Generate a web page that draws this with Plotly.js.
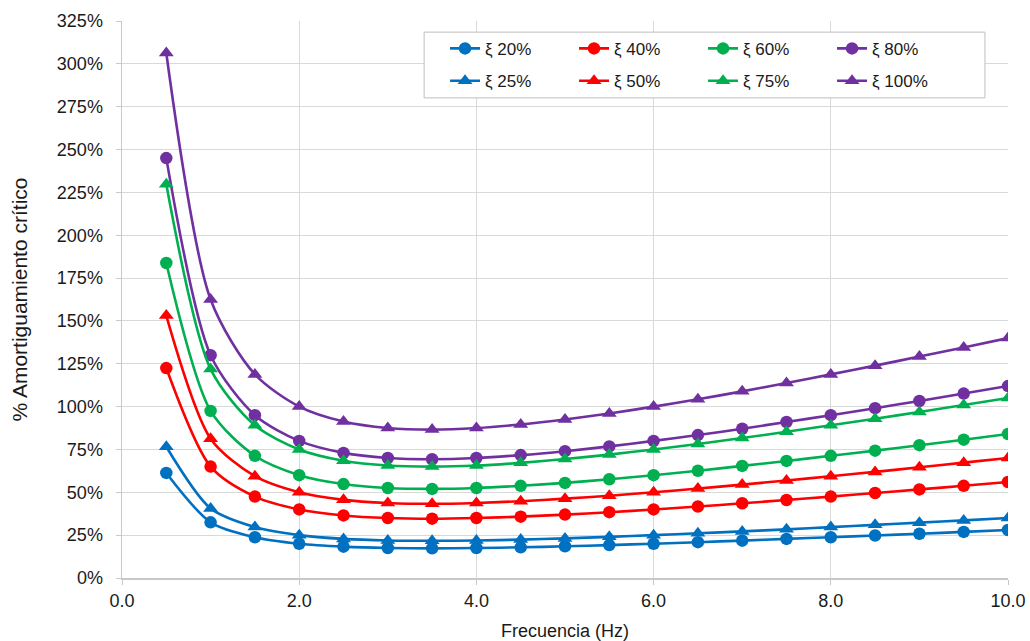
<!DOCTYPE html>
<html>
<head>
<meta charset="utf-8">
<script src="https://cdn.plot.ly/plotly-3.0.1.min.js"></script>
<style>html,body{margin:0;padding:0;background:#fff;}#chart{width:1030px;height:641px;}</style>
</head>
<body>
<div id="chart"></div>
<script>
const freq = [0.5,1.0,1.5,2.0,2.5,3.0,3.5,4.0,4.5,5.0,5.5,6.0,6.5,7.0,7.5,8.0,8.5,9.0,9.5,10.0];
const xi20  = [61.3,32.5,23.8,20.0,18.3,17.5,17.3,17.5,17.9,18.5,19.2,20.0,20.9,21.8,22.8,23.8,24.8,25.8,26.9,28.0];
const xi25  = [76.6,40.6,29.7,25.0,22.8,21.9,21.7,21.9,22.4,23.1,24.0,25.0,26.1,27.2,28.4,29.7,31.0,32.3,33.6,35.0];
const xi40  = [122.5,65.0,47.5,40.0,36.5,35.0,34.6,35.0,35.8,37.0,38.4,40.0,41.7,43.6,45.5,47.5,49.6,51.7,53.8,56.0];
const xi50  = [153.1,81.3,59.4,50.0,45.6,43.8,43.3,43.8,44.8,46.3,48.0,50.0,52.2,54.5,56.9,59.4,61.9,64.6,67.3,70.0];
const xi60  = [183.8,97.5,71.3,60.0,54.8,52.5,52.0,52.5,53.8,55.5,57.6,60.0,62.6,65.4,68.3,71.3,74.3,77.5,80.7,84.0];
const xi75  = [229.7,121.9,89.1,75.0,68.4,65.6,65.0,65.6,67.2,69.4,72.0,75.0,78.2,81.7,85.3,89.1,92.9,96.9,100.9,105.0];
const xi80  = [245.0,130.0,95.0,80.0,73.0,70.0,69.3,70.0,71.7,74.0,76.8,80.0,83.4,87.1,91.0,95.0,99.1,103.3,107.6,112.0];
const xi100 = [306.3,162.5,118.8,100.0,91.3,87.5,86.6,87.5,89.6,92.5,96.0,100.0,104.3,108.9,113.8,118.8,123.9,129.2,134.5,140.0];

const names = ["ξ 20%","ξ 40%","ξ 60%","ξ 80%","ξ 25%","ξ 50%","ξ 75%","ξ 100%"];
const seriesData = [xi20, xi40, xi60, xi80, xi25, xi50, xi75, xi100];
const colors = ["#0070C0","#FF0000","#00B050","#7030A0","#0070C0","#FF0000","#00B050","#7030A0"];
const symbols = ["circle","circle","circle","circle","triangle-up","triangle-up","triangle-up","triangle-up"];
const legendRefs = ["legend","legend","legend","legend","legend2","legend2","legend2","legend2"];

const traces = seriesData.map((ys, i) => ({
  x: freq, y: ys, name: names[i], type: "scatter", mode: "lines+markers",
  legend: legendRefs[i],
  line: {color: colors[i], width: 2.6, shape: "spline", smoothing: 0.8},
  marker: {color: colors[i], symbol: symbols[i], size: symbols[i] === "circle" ? 12.5 : 13}
}));

const legendCommon = {
  orientation: "h", xanchor: "left", yanchor: "middle",
  borderwidth: 0, bgcolor: "rgba(0,0,0,0)",
  entrywidth: 84, entrywidthmode: "pixels",
  font: {size: 17, color: "#1a1a1a"}, traceorder: "normal"
};

const layout = {
  width: 1030, height: 641,
  margin: {l: 122, r: 22, t: 21, b: 63},
  paper_bgcolor: "#fff", plot_bgcolor: "#fff",
  font: {family: "Liberation Sans, Arial, sans-serif", size: 18, color: "#1a1a1a"},
  showlegend: true,
  legend: Object.assign({}, legendCommon, {x: 0.3646, y: 0.950}),
  legend2: Object.assign({}, legendCommon, {x: 0.3646, y: 0.892}),
  shapes: [{
    type: "rect", xref: "paper", yref: "paper", layer: "above",
    x0: 0.341, x1: 0.974, y0: 0.862, y1: 0.980,
    line: {color: "#bfbfbf", width: 1}, fillcolor: "#ffffff"
  }],
  xaxis: {
    range: [0, 10], dtick: 2, tick0: 0, tickformat: ".1f",
    showgrid: true, gridcolor: "#d9d9d9", gridwidth: 1,
    showline: true, linecolor: "#c8c8c8", linewidth: 1.5,
    ticks: "outside", ticklen: 5, tickcolor: "#c8c8c8",
    zeroline: false, tickfont: {size: 18}, ticklabelstandoff: 1,
    title: {text: "Frecuencia (Hz)", font: {size: 18}, standoff: 14}
  },
  yaxis: {
    range: [0, 325], dtick: 25, tick0: 0, ticksuffix: "%",
    showgrid: true, gridcolor: "#d9d9d9", gridwidth: 1,
    showline: true, linecolor: "#c8c8c8", linewidth: 1.5,
    ticks: "outside", ticklen: 5, tickcolor: "#c8c8c8",
    zeroline: false, tickfont: {size: 18}, ticklabelstandoff: 9,
    title: {text: "% Amortiguamiento crítico", font: {size: 21}, standoff: 23}
  }
};

Plotly.newPlot("chart", traces, layout, {displayModeBar: false, staticPlot: true});
</script>
</body>
</html>
